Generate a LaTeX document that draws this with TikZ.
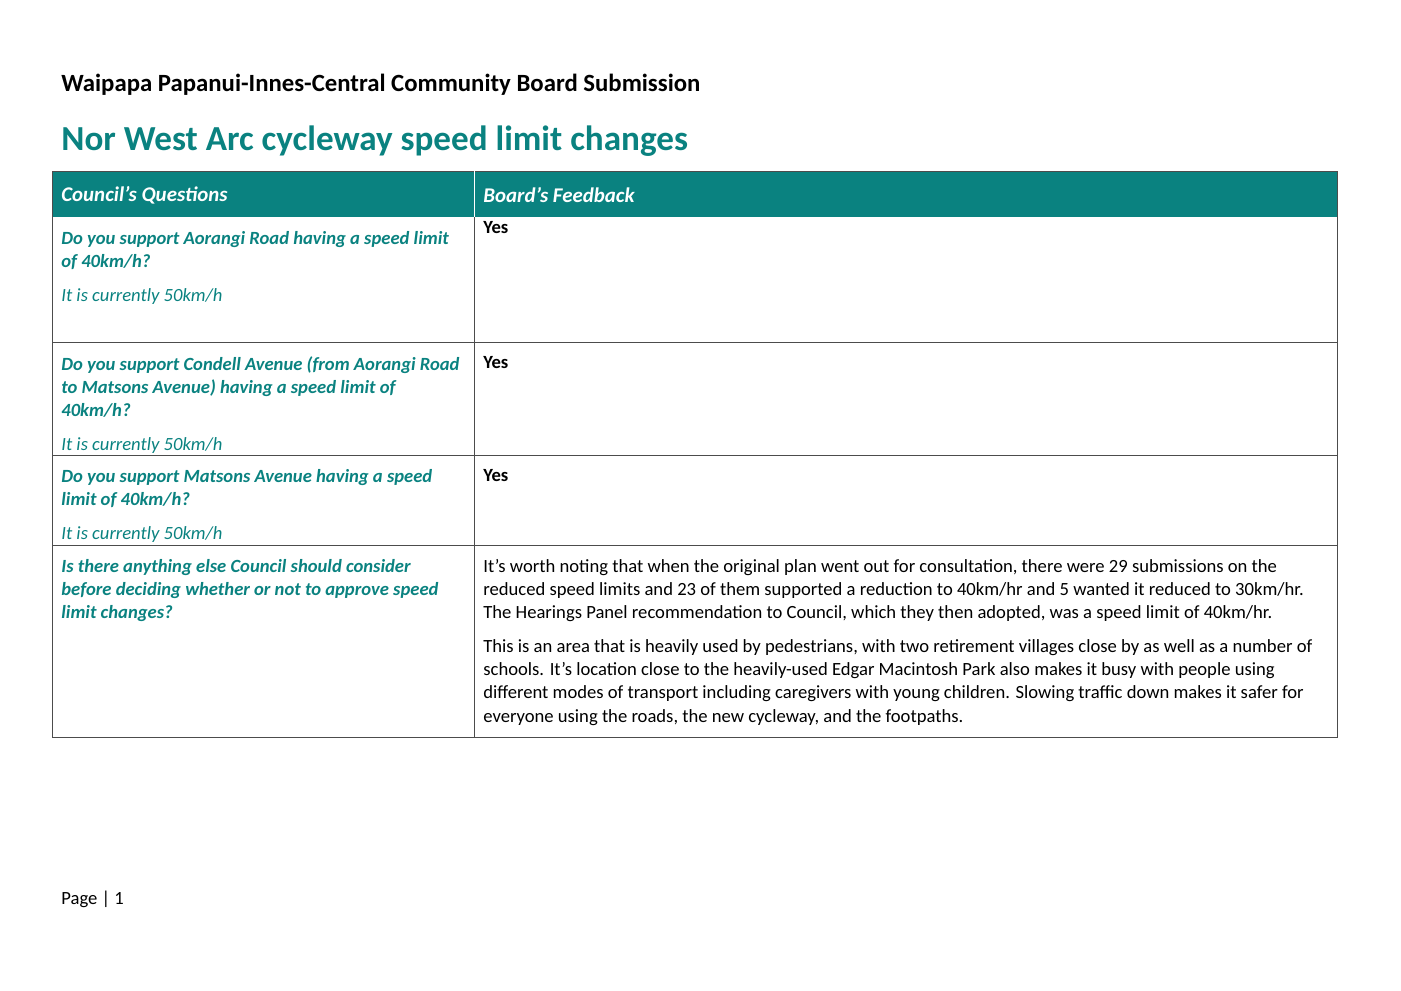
\documentclass[tikz,border=0pt]{standalone}
\usepackage{fontspec}
\setmainfont{Carlito}
\definecolor{teal}{RGB}{10,130,128}
\newcommand{\apos}{{\char"0027}}
\tikzset{
  body/.style={anchor=north west,align=left,inner sep=0pt,font=\fontsize{10.6}{13.2}\selectfont},
  qtext/.style={body,text=teal,font=\fontsize{10.6}{13.2}\selectfont\bfseries\itshape},
  headtext/.style={anchor=west,inner sep=0pt,text=white,font=\fontsize{11.9}{14}\selectfont\bfseries\itshape},
  rule/.style={draw=black!70,line width=0.45pt}
}
\begin{document}
\begin{tikzpicture}[x=0.02cm,y=-0.02cm]
\useasboundingbox (0,0) rectangle (1401,991);

\node[anchor=west,inner sep=0pt,font=\fontsize{14.1}{16}\selectfont\bfseries] (board) at (61,85) {Waipapa Papanui-Innes-Central Community Board Submission};
\node[anchor=west,inner sep=0pt,text=teal,font=\fontsize{20}{23}\selectfont\bfseries] (title) at (61,141) {Nor West Arc cycleway speed limit changes};

% header
\fill[teal] (52,171) rectangle (1337,217);
\node[headtext] (hq) at (61,195) {Council’s Questions};
\node[headtext] (hf) at (483,195) {Board’s Feedback};

% grid
\draw[rule] (52,171) rectangle (1337,737);
\draw[white,line width=0.45pt] (474,171) -- (474,217);
\draw[rule] (474,217) -- (474,737);
\foreach \y in {342,455,545} {
  \draw[rule] (52,\y) -- (1337,\y);
}

% row 1
\node[qtext] (q1) at (61,231) {Do you support Aorangi Road having a speed limit\\of 40km/h?\\[6pt]{\mdseries It is currently 50km/h}};
\node[body,font=\fontsize{10.6}{13.2}\selectfont\bfseries] (a1) at (483,221) {Yes};

% row 2
\node[qtext] (q2) at (61,356) {Do you support Condell Avenue (from Aorangi Road\\to Matsons Avenue) having a speed limit of\\40km/h?\\[6pt]{\mdseries It is currently 50km/h}};
\node[body,font=\fontsize{10.6}{13.2}\selectfont\bfseries] (a2) at (483,356) {Yes};

% row 3
\node[qtext] (q3) at (61,469) {Do you support Matsons Avenue having a speed\\limit of 40km/h?\\[6pt]{\mdseries It is currently 50km/h}};
\node[body,font=\fontsize{10.6}{13.2}\selectfont\bfseries] (a3) at (483,469) {Yes};

% row 4
\node[qtext] (q4) at (61,559) {Is there anything else Council should consider\\before deciding whether or not to approve speed\\limit changes?};
\node[body] (a4) at (483,559) {It\apos s worth noting that when the original plan went out for consultation, there were 29 submissions on the\\reduced speed limits and 23 of them supported a reduction to 40km/hr and 5 wanted it reduced to 30km/hr.\\The Hearings Panel recommendation to Council, which they then adopted, was a speed limit of 40km/hr.\\[6pt]This is an area that is heavily used by pedestrians, with two retirement villages close by as well as a number of\\schools. It\apos s location close to the heavily-used Edgar Macintosh Park also makes it busy with people using\\different modes of transport including caregivers with young children. Slowing traffic down makes it safer for\\everyone using the roads, the new cycleway, and the footpaths.};

\node[anchor=west,inner sep=0pt,font=\fontsize{10.6}{13}\selectfont] (page) at (61,899) {Page | 1};
\end{tikzpicture}
\end{document}
